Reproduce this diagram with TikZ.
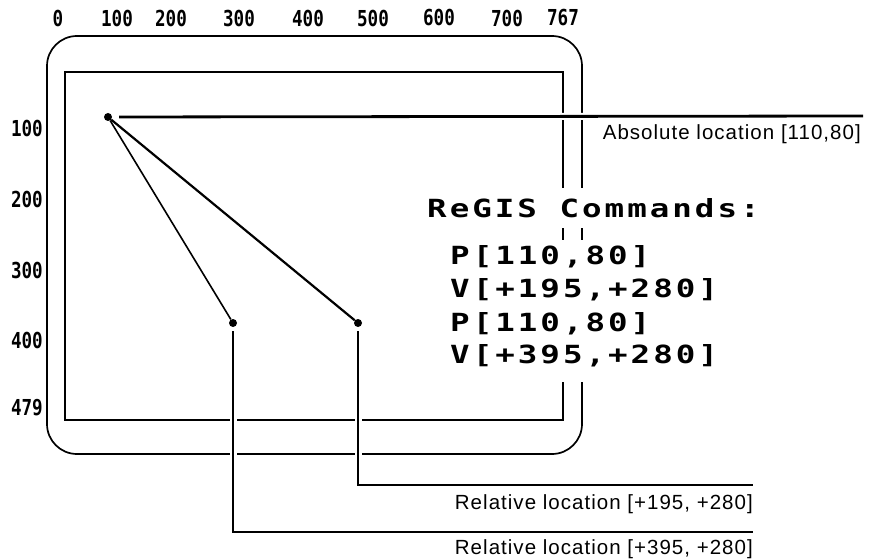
\documentclass[tikz,border=0pt]{standalone}
\usepackage{fontspec}
\setmainfont{Liberation Sans}[LetterSpace=5]
\newfontfamily\axisfont[FakeStretch=0.8]{DejaVu Sans Mono Bold}
\newfontfamily\regisfont[FakeStretch=1.3,LetterSpace=12]{DejaVu Sans Mono Bold}
\begin{document}
\begin{tikzpicture}[x=1pt,y=-1pt,
  boxline/.style={line width=1.7pt},
  conn/.style={line width=2.8pt, preaction={draw=white,line width=7pt}},
  diag/.style={line width=2.2pt},
  dot/.style={circle,fill,inner sep=0pt,minimum size=8pt},
  axis/.style={font=\axisfont\fontsize{22}{22}\selectfont, inner sep=0pt},
  laxis/.style={axis, anchor=east},
  cmd/.style={font=\regisfont\fontsize{25}{25}\selectfont, anchor=base west, inner sep=0pt},
  lab/.style={font=\fontsize{20.5}{20.5}\selectfont, anchor=north east, inner sep=0pt}]
\useasboundingbox (0,0) rectangle (871,559);
% screen frames
\draw[boxline, rounded corners=30pt] (47,36) rectangle (582,454);
\draw[boxline] (65,72) rectangle (563,420);
% axis labels
\node[axis] (t0) at (58,18) {0};
\node[axis] (t1) at (117,18) {100};
\node[axis] (t2) at (171,18) {200};
\node[axis] (t3) at (239,18) {300};
\node[axis] (t4) at (308,18) {400};
\node[axis] (t5) at (373,18) {500};
\node[axis] (t6) at (439,18) {600};
\node[axis] (t7) at (507,18) {700};
\node[axis] (t8) at (563,18) {767};
\node[laxis] (l1) at (43,128) {100};
\node[laxis] (l2) at (43,199) {200};
\node[laxis] (l3) at (43,270) {300};
\node[laxis] (l4) at (43,340) {400};
\node[laxis] (l5) at (43,408) {479};
% masks behind command text
\fill[white] (555,188) rectangle (590,228);
\fill[white] (555,240) rectangle (590,382);
\node[cmd] (h) at (427,218) {ReGIS Commands:};
\node[cmd] (c1) at (450,265) {P[110,80]};
\node[cmd] (c2) at (450,298) {V[+195,+280]};
\node[cmd] (c3) at (450,331) {P[110,80]};
\node[cmd] (c4) at (450,363) {V[+395,+280]};
% points
\node[dot] (p0) at (108,117) {};
\node[dot] (p1) at (358,323) {};
\node[dot] (p2) at (233,323) {};
\draw[diag] (p0) -- (p1);
\draw[diag, line width=1.6pt] (p0) -- (p2);
\coordinate (a) at (863,116);
\coordinate (r1) at (753,485);
\coordinate (r2) at (753,532);
\draw[conn, shorten <=7pt] (p0) -- (a);
\draw[conn, shorten <=4pt] (p1) |- (r1);
\draw[conn, shorten <=4pt] (p2) |- (r2);
\node[lab] (la) at ([xshift=-2pt,yshift=-8pt]a) {Absolute location [110,80]};
\node[lab] (lr1) at ([yshift=-9pt]r1) {Relative location [+195, +\kern1pt 280]};
\node[lab] (lr2) at ([yshift=-7pt]r2) {Relative location [+395, +\kern1pt 280]};
\end{tikzpicture}
\end{document}
